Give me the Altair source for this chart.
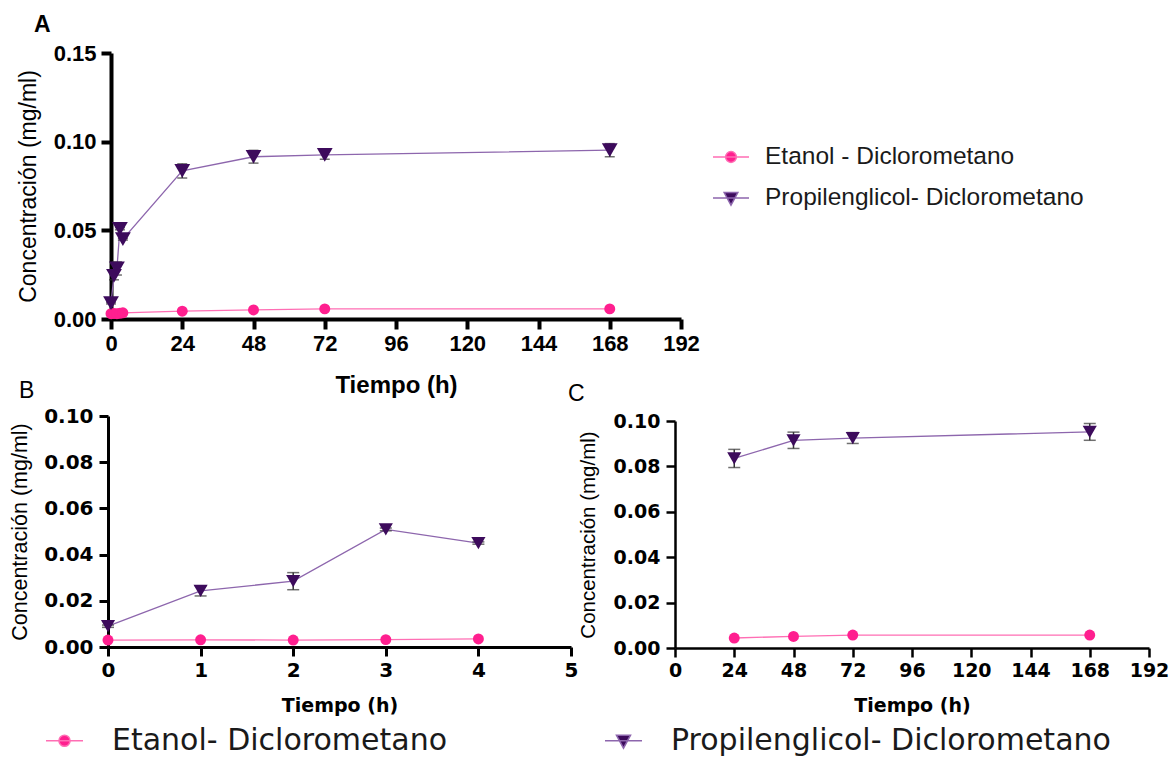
import altair as alt
import pandas as pd

# ---------------- data ----------------
tiempo_h = [0, 1, 2, 3, 4, 24, 48, 72, 168]
propilenglicol = [0.0090, 0.0243, 0.0285, 0.0509, 0.0450, 0.0835, 0.0915, 0.0925, 0.0952]
propilenglicol_de = [0.0005, 0.0022, 0.0037, 0.0006, 0.0005, 0.0040, 0.0036, 0.0024, 0.0037]
etanol = [0.0030, 0.0031, 0.0030, 0.0032, 0.0035, 0.0044, 0.0051, 0.0057, 0.0057]

serie_A = ["Etanol - Diclorometano", "Propilenglicol- Diclorometano"]
serie_BC = ["Etanol- Diclorometano", "Propilenglicol- Diclorometano"]
letras = ["A", "B", "C"]
x_ticks_A = [0, 24, 48, 72, 96, 120, 144, 168, 192]
y_ticks_A = [0.0, 0.05, 0.10, 0.15]
x_ticks_B = [0, 1, 2, 3, 4, 5]
x_ticks_C = [0, 24, 48, 72, 96, 120, 144, 168, 192]
y_ticks_BC = [0.0, 0.02, 0.04, 0.06, 0.08, 0.10]
titulo_x = "Tiempo (h)"
titulo_y = "Concentración (mg/ml)"

rows = []
for t, m, s in zip(tiempo_h, propilenglicol, propilenglicol_de):
    rows.append({"t": t, "c": m, "lo": m - s, "hi": m + s, "k": 1})
for t, m in zip(tiempo_h, etanol):
    rows.append({"t": t, "c": m, "lo": m, "hi": m, "k": 0})
df = pd.DataFrame(rows)
df["nA"] = [serie_A[k] for k in df["k"]]
df["nBC"] = [serie_BC[k] for k in df["k"]]

# ---------------- styles ----------------
W, H = 1169, 757
PINK = "#ff1f8f"
PINK_LINE = "#ff6eb4"
PURPLE = "#3d0b5c"
PURPLE_LINE = "#8d66ad"
ERR = "#333333"
F_SANS = "Liberation Sans, Arial, sans-serif"
F_WIDE = "DejaVu Sans, Verdana, sans-serif"


def axis(orient, offset, values, fmt, tfont, tsize, tweight, lfont, lsize, width, tick, lpad, **kw):
    extra = {}
    if fmt:
        extra["format"] = fmt
    return alt.Axis(
        orient=orient, offset=offset, values=values,
        title=titulo_x if orient == "bottom" else titulo_y,
        titleFont=tfont, titleFontSize=tsize, titleFontWeight=tweight, titleColor="black",
        labelFont=lfont, labelFontSize=lsize, labelFontWeight="bold", labelColor="black",
        labelFlush=False, labelOverlap=False, labelPadding=lpad,
        domainColor="black", domainWidth=width, tickColor="black", tickWidth=width,
        tickSize=tick, grid=False, **extra, **kw,
    )


def panel(data, xdom, xr, ydom, yr, xaxis, yaxis, tri, circ, cap, lw):
    xs = alt.Scale(domain=xdom, range=xr, nice=False, zero=False)
    ys = alt.Scale(domain=ydom, range=yr, nice=False, zero=False)
    X = alt.X("t:Q", scale=xs, axis=xaxis)

    def Y(f):
        return alt.Y(f, scale=ys, axis=yaxis)

    base = alt.Chart(data)
    e = base.transform_filter("datum.k == 0")
    p = base.transform_filter("datum.k == 1")
    return alt.layer(
        e.mark_line(color=PINK_LINE, strokeWidth=lw).encode(x=X, y=Y("c:Q")),
        p.mark_line(color=PURPLE_LINE, strokeWidth=lw).encode(x=X, y=Y("c:Q")),
        p.mark_errorbar(ticks=True, size=cap, thickness=1.5, color=ERR).encode(
            x=X, y=Y("lo:Q"), y2="hi:Q"),
        e.mark_point(shape="circle", filled=True, size=circ, color=PINK, opacity=1).encode(
            x=X, y=Y("c:Q")),
        p.mark_point(shape="triangle-down", filled=True, size=tri, color=PURPLE, opacity=1).encode(
            x=X, y=Y("c:Q")),
    )


# Panel A
axA_x = axis("bottom", -(H - 319), x_ticks_A, None, F_SANS, 24, "bold", F_SANS, 22, 4, 10, 4,
             titleY=73, titleBaseline="alphabetic")
axA_y = axis("left", -111, y_ticks_A, ".2f", F_SANS, 23, "normal", F_SANS, 22, 4, 10, 5,
             titleX=28 - 111, titleBaseline="middle")
A = panel(df, [0, 192], [111, 681], [0, 0.15], [319, 53], axA_x, axA_y, 250, 120, 10, 1.3)

# Panel B
axB_x = axis("bottom", -(H - 647), x_ticks_B, None, F_WIDE, 19, "bold", F_WIDE, 20, 3, 9, 4,
             titleY=64, titleBaseline="alphabetic")
axB_y = axis("left", -108, y_ticks_BC, ".2f", F_SANS, 21.5, "normal", F_WIDE, 20, 3, 9, 6,
             titleX=20 - 108, titleBaseline="middle")
B = panel(df[df["t"] <= 4], [0, 5], [108, 571], [0, 0.10], [647, 416], axB_x, axB_y,
          200, 120, 12, 1.3)

# Panel C
axC_x = axis("bottom", -(H - 648), x_ticks_C, None, F_WIDE, 19, "bold", F_WIDE, 19, 2.5, 9, 4,
             titleY=63, titleBaseline="alphabetic")
axC_y = axis("left", -675, y_ticks_BC, ".2f", F_SANS, 20.5, "normal", F_WIDE, 19, 2.5, 9, 6,
             titleX=588 - 675, titleBaseline="middle")
C = panel(df[df["t"] >= 24], [0, 192], [675, 1149], [0, 0.10], [648, 421], axC_x, axC_y,
          200, 120, 12, 1.3)

# Legends (real Vega legends; symbols = line segment + marker)
PATHS = [
    "M-1,0H1M0.3,0A0.3,0.3,0,1,1,-0.3,0A0.3,0.3,0,1,1,0.3,0Z",
    "M-1,0H1M-0.38,-0.3H0.38L0,0.4Z",
]


def legend_layer(field, names, sym, lx, ly, font, fsize, direction, label_offset, col_pad, row_pad):
    leg = alt.Legend(
        title=None, orient="none", legendX=lx, legendY=ly, direction=direction,
        labelFont=font, labelFontSize=fsize, labelColor="#1a1a1a", labelLimit=2000,
        symbolSize=sym * sym, symbolStrokeWidth=1.5, labelOffset=label_offset,
        columnPadding=col_pad, rowPadding=row_pad, padding=0,
    )
    return alt.Chart(df).transform_filter("false").mark_point(
        filled=True, size=sym * sym, strokeWidth=1.5, opacity=1
    ).encode(
        color=alt.Color(field + ":N", scale=alt.Scale(domain=names, range=[PINK, PURPLE]), legend=leg),
        stroke=alt.Stroke(field + ":N", scale=alt.Scale(domain=names, range=[PINK_LINE, PURPLE_LINE]), legend=leg),
        shape=alt.Shape(field + ":N", scale=alt.Scale(domain=names, range=PATHS), legend=leg),
    )


legA = legend_layer("nA", serie_A, 36, 712, 138, F_SANS, 24.5, "vertical", 15, 10, 10)
legBC = legend_layer("nBC", serie_BC, 37, 45, 721, F_WIDE, 30, "horizontal", 28, 154, 0)

# Panel letters
one = pd.DataFrame({"l": [0]})
letA = alt.Chart(one).mark_text(text=letras[0], font=F_SANS, fontSize=23, fontWeight="bold",
                                align="left", baseline="alphabetic", color="black").encode(
    x=alt.value(34), y=alt.value(32))
letB = alt.Chart(one).mark_text(text=letras[1], font=F_SANS, fontSize=23,
                                align="left", baseline="alphabetic", color="black").encode(
    x=alt.value(19), y=alt.value(398))
letC = alt.Chart(one).mark_text(text=letras[2], font=F_SANS, fontSize=23,
                                align="left", baseline="alphabetic", color="black").encode(
    x=alt.value(568), y=alt.value(401))

chart = alt.layer(A, B, C, legA, legBC, letA, letB, letC).resolve_scale(
    x="independent", y="independent", color="independent", stroke="independent",
    shape="independent",
).properties(
    width=W, height=H, padding=0, autosize=alt.AutoSizeParams(type="none"),
    background="white",
).configure_view(stroke="transparent")

chart.save("out.html", embed_options={"renderer": "svg", "actions": False})
